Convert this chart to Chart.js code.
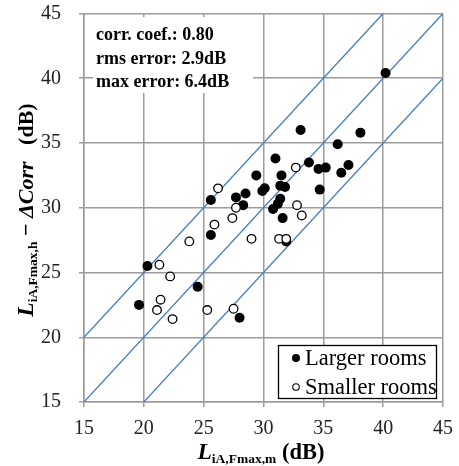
<!DOCTYPE html>
<html>
<head>
<meta charset="utf-8">
<script src="https://cdn.jsdelivr.net/npm/chart.js@4/dist/chart.umd.min.js"></script>
<style>
  html, body { margin: 0; padding: 0; background: #fff; }
  #wrap { width: 459px; height: 466px; }
</style>
</head>
<body>
<div id="wrap"><canvas id="c" width="459" height="466"></canvas></div>
<script>
// measured (x) vs predicted (y), larger rooms
var largerX = [19.6, 20.3, 24.5, 25.6, 25.6, 27.7, 28.0, 28.3, 28.5, 29.4, 29.9, 30.1, 30.8, 31.0, 31.2, 31.4,
               31.4, 31.8, 31.5, 31.6, 31.9, 33.1, 33.8, 34.6, 34.7, 35.2, 36.2, 36.5, 37.1, 38.1, 40.2];
var largerY = [22.5, 25.5, 23.9, 27.9, 30.6, 30.8, 21.5, 30.2, 31.1, 32.5, 31.3, 31.5, 29.9, 33.8, 30.3, 30.7,
               31.7, 31.6, 32.5, 29.2, 27.4, 36.0, 33.5, 33.0, 31.4, 33.1, 34.9, 32.7, 33.3, 35.8, 40.4];
// smaller rooms
var smallerX = [21.1, 21.3, 21.4, 22.2, 22.4, 23.8, 25.3, 25.9, 26.2, 27.4, 27.5, 27.7, 29.0, 31.3, 31.9, 32.7, 32.8, 33.2];
var smallerY = [22.1, 25.6, 22.9, 24.7, 21.4, 27.4, 22.1, 28.7, 31.5, 29.2, 22.2, 30.0, 27.6, 27.6, 27.6, 33.1, 30.2, 29.4];
// reference lines y = x + offset
var lineOffsets = [5, 0, -5];
var axisMin = 15, axisMax = 45, axisStep = 5;
var seriesNames = ['Larger rooms', 'Smaller rooms'];
var statLines = ['corr. coef.: 0.80', 'rms error: 2.9dB', 'max error: 6.4dB'];

var SERIF = '"Liberation Serif", "Times New Roman", serif';

function pts(xs, ys) {
    return xs.map(function (x, i) { return { x: x, y: ys[i] }; });
}

function refLine(off) {
    var x0 = Math.max(axisMin, axisMin - off), x1 = Math.min(axisMax, axisMax - off);
    return [{ x: x0, y: x0 + off }, { x: x1, y: x1 + off }];
}

var datasets = [
    {
        label: seriesNames[0],
        data: pts(largerX, largerY),
        backgroundColor: '#000',
        borderColor: '#000',
        borderWidth: 0,
        pointRadius: 5,
        pointHoverRadius: 5,
        order: 1
    },
    {
        label: seriesNames[1],
        data: pts(smallerX, smallerY),
        backgroundColor: '#fff',
        borderColor: '#000',
        borderWidth: 1.3,
        pointRadius: 4.3,
        pointHoverRadius: 4.3,
        order: 0
    }
];
lineOffsets.forEach(function (off) {
    datasets.push({
        type: 'line',
        label: 'ref' + off,
        data: refLine(off),
        borderColor: '#4a7ebb',
        borderWidth: 1.3,
        pointRadius: 0,
        fill: false,
        order: 5
    });
});

// draws a row of text pieces (with subscripts) starting at x
function drawPieces(ctx, pieces, x, y) {
    pieces.forEach(function (p) {
        ctx.font = p.font;
        ctx.fillText(p.t, x, y + (p.dy || 0));
        x += ctx.measureText(p.t).width;
    });
}
function piecesWidth(ctx, pieces) {
    var w = 0;
    pieces.forEach(function (p) { ctx.font = p.font; w += ctx.measureText(p.t).width; });
    return w;
}

var overlay = {
    id: 'overlay',
    afterDraw: function (chart) {
        var ctx = chart.ctx;
        ctx.save();
        ctx.fillStyle = '#000';
        ctx.textBaseline = 'alphabetic';
        ctx.textAlign = 'left';

        // stats box
        ctx.fillStyle = '#fff';
        ctx.fillRect(93, 17, 160, 76);
        ctx.fillStyle = '#000';
        ctx.font = 'bold 18px ' + SERIF;
        statLines.forEach(function (s, i) {
            ctx.fillText(s, 96, 40 + i * 23.5);
        });

        // legend
        ctx.fillStyle = '#fff';
        ctx.fillRect(278, 345, 159, 54);
        ctx.strokeStyle = '#000';
        ctx.lineWidth = 1.3;
        ctx.strokeRect(278.5, 345.5, 158, 53);
        ctx.font = '22.5px ' + SERIF;
        ctx.fillStyle = '#000';
        ctx.beginPath(); ctx.arc(296, 358, 4, 0, Math.PI * 2); ctx.fill();
        ctx.fillText(seriesNames[0], 305, 364.5);
        ctx.beginPath(); ctx.arc(296, 387, 3.3, 0, Math.PI * 2);
        ctx.lineWidth = 1.1; ctx.stroke();
        ctx.fillText(seriesNames[1], 305, 394);

        // x title
        var xt = [
            { t: 'L', font: 'italic bold 23.5px ' + SERIF },
            { t: 'iA,Fmax,m', font: 'bold 13.5px ' + SERIF, dy: 4 },
            { t: ' (dB)', font: 'bold 22.5px ' + SERIF }
        ];
        var w = piecesWidth(ctx, xt);
        drawPieces(ctx, xt, 261 - w / 2, 459);

        // y title
        var yt = [
            { t: 'L', font: 'italic bold 23.5px ' + SERIF },
            { t: 'iA,Fmax,h', font: 'bold 13.5px ' + SERIF, dy: 4 },
            { t: ' \u2212 ', font: 'bold 22px ' + SERIF },
            { t: '\u0394Corr', font: 'italic bold 22px ' + SERIF },
            { t: '   (dB)', font: 'bold 22px ' + SERIF }
        ];
        w = piecesWidth(ctx, yt);
        ctx.translate(33, 210);
        ctx.rotate(-Math.PI / 2);
        drawPieces(ctx, yt, -w / 2, 0);
        ctx.restore();
    }
};

var gridStyle = { color: '#9c9c9c', lineWidth: 1.5, tickLength: 5, drawTicks: true };
var tickFont = { family: SERIF, size: 20 };

new Chart(document.getElementById('c'), {
    type: 'scatter',
    data: { datasets: datasets },
    options: {
        responsive: false,
        animation: false,
        devicePixelRatio: 1,
        layout: { padding: { top: 13.5, right: 16, left: 0, bottom: 0 } },
        plugins: {
            legend: { display: false },
            tooltip: { enabled: false }
        },
        scales: {
            x: {
                type: 'linear',
                min: axisMin, max: axisMax,
                grid: gridStyle,
                border: { color: '#9c9c9c', width: 1.5 },
                ticks: { stepSize: axisStep, color: '#222', font: tickFont, padding: 10, maxRotation: 0 },
                afterFit: function (s) { s.height = 64; s.paddingLeft = 0; s.paddingRight = 0; }
            },
            y: {
                type: 'linear',
                min: axisMin, max: axisMax,
                grid: gridStyle,
                border: { color: '#9c9c9c', width: 1.5 },
                ticks: { stepSize: axisStep, color: '#222', font: tickFont, padding: 18 },
                afterFit: function (s) { s.width = 84; s.paddingTop = 0; s.paddingBottom = 0; }
            }
        }
    },
    plugins: [overlay]
});
</script>
</body>
</html>
